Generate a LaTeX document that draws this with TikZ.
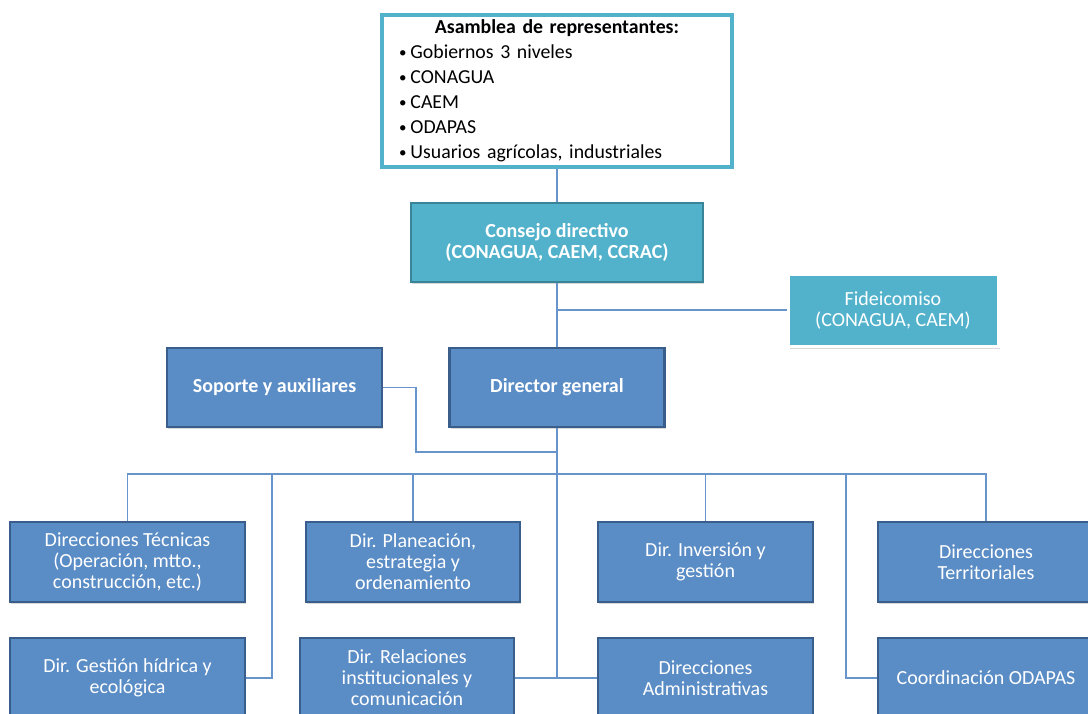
\documentclass[tikz,border=0pt]{standalone}
\usepackage{fontspec}
\setmainfont{Carlito}
\usepackage{tikz}
\usetikzlibrary{positioning,calc,shadows}
\definecolor{cyanclr}{RGB}{82,178,203}
\definecolor{cyanedge}{RGB}{58,132,152}
\definecolor{blueclr}{RGB}{90,140,197}
\definecolor{blueedge}{RGB}{58,94,140}
\definecolor{lineclr}{RGB}{104,148,204}
\tikzset{
  box/.style={rectangle,draw=blueedge,line width=2.2pt,fill=blueclr,
              text=white,align=center,minimum height=80pt,inner sep=2pt,
              font=\fontsize{20}{21}\selectfont,
              drop shadow={shadow xshift=1pt,shadow yshift=-1.5pt,opacity=0.3}},
  hbox/.style={box,font=\fontsize{20}{21}\selectfont\bfseries},
  cbox/.style={box,draw=cyanedge,fill=cyanclr},
  conn/.style={draw=lineclr,line width=1.8pt},
}
\newcommand{\bul}{\raisebox{1.5pt}{\fontsize{15}{15}\selectfont•}\hspace{4pt}}

\begin{document}
\begin{tikzpicture}[
    x=1pt, y=-1pt,
    asam/.style={rectangle, draw=cyanclr, line width=3.5pt, fill=white,
                 minimum width=350pt, minimum height=152pt,
                 text width=316pt, align=left,
                 font=\fontsize{19.8}{25}\selectfont,
                 drop shadow={shadow xshift=1pt,shadow yshift=-1.5pt,opacity=0.25}},
  ]
\useasboundingbox (0,0) rectangle (1088,713);
\clip (0,0) rectangle (1088,713);
\node[asam] (asam) at (557,91) {{\centering\textbf{Asamblea de representantes:}\par}
  \noindent\bul Gobiernos 3 niveles\\ \bul CONAGUA\\ \bul CAEM\\
  \bul ODAPAS\\ \bul Usuarios agrícolas, industriales};
\node[cbox, font=\fontsize{20}{21}\selectfont\bfseries, minimum width=292pt, minimum height=79pt]
     (consejo) at (557,242.5) {Consejo directivo\\(CONAGUA, CAEM, CCRAC)};
\node[cbox, draw=white, line width=3pt, minimum width=210pt, minimum height=72pt,
      drop shadow={shadow xshift=2pt,shadow yshift=-3pt,opacity=0.3}]
     (fideic) at (893,310) {Fideicomiso\\(CONAGUA, CAEM)};
\node[hbox, minimum width=215pt, minimum height=79pt] (soporte)  at (274.5,387.5) {Soporte y auxiliares};
\node[hbox, minimum width=215pt, minimum height=79pt] (director) at (557,387.5)   {Director general};
\node[box, minimum width=235pt] (dirtec) at (127.5,562) {Direcciones Técnicas\\(Operación, mtto.,\\construcción, etc.)};
\node[box, minimum width=214pt] (planea) at (413,562)   {Dir. Planeación,\\estrategia y\\ordenamiento};
\node[box, minimum width=215pt] (inver)  at (705.5,562) {Dir. Inversión y\\gestión};
\node[box, minimum width=216pt] (territ) at (986,562)   {Direcciones\\Territoriales};
\node[box, minimum width=235pt] (gestion) at (127.5,678) {Dir. Gestión hídrica y\\ecológica};
\node[box, minimum width=214pt] (relac)   at (407,678)   {Dir. Relaciones\\institucionales y\\comunicación};
\node[box, minimum width=215pt] (admin)   at (705.5,678) {Direcciones\\Administrativas};
\node[box, minimum width=216pt] (coord)   at (986,678)   {Coordinación ODAPAS};
\coordinate (bus)  at (557,474);
\coordinate (sjoin) at (416,452);
\coordinate (gjoin) at (272,474);
\coordinate (cjoin) at (846,474);
\draw[conn] (asam) -- (consejo);
\draw[conn] (consejo) -- (director);
\draw[conn] (fideic.west) -- (fideic.west -| consejo.south);
\draw[conn] (soporte.east) -| (sjoin) -- (sjoin -| director.south);
\draw[conn] (director.south) -- (director.south |- admin.west);
\draw[conn] (dirtec.north) -- (dirtec.north |- bus) -- (territ.north |- bus) -- (territ.north);
\draw[conn] (planea.north) -- (planea.north |- bus);
\draw[conn] (inver.north)  -- (inver.north |- bus);
\draw[conn] (gjoin) |- (gestion.east);
\draw[conn] (cjoin) |- (coord.west);
\draw[conn] (relac.east) -- (admin.west);
\end{tikzpicture}
\end{document}
